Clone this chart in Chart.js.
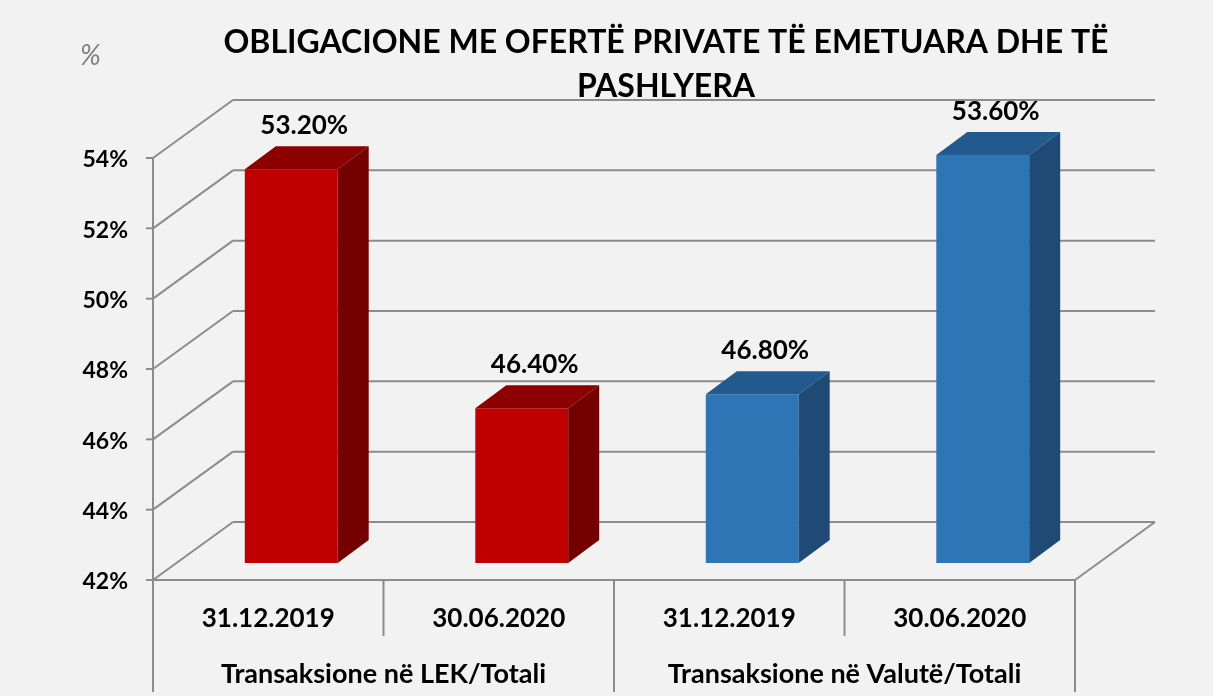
<!DOCTYPE html>
<html>
<head>
<meta charset="utf-8">
<script src="https://cdn.jsdelivr.net/npm/chart.js@4/dist/chart.umd.min.js"></script>
<style>
  html, body { margin: 0; padding: 0; background: #f2f2f2; }
  #wrap { width: 1213px; height: 696px; }
</style>
</head>
<body>
<div id="wrap"><canvas id="bondChart" width="1213" height="696"></canvas></div>
<script>
// --- data ---
const titleLines = ["OBLIGACIONE ME OFERTË PRIVATE TË EMETUARA DHE TË", "PASHLYERA"];
const categories = ["31.12.2019", "30.06.2020", "31.12.2019", "30.06.2020"];
const groups = ["Transaksione në LEK/Totali", "Transaksione në Valutë/Totali"];
const values = [53.2, 46.4, 46.8, 53.6];
const yTicks = [42, 44, 46, 48, 50, 52, 54];

// colours: front / top / side of each bar
const frontColors = ["#c00000", "#c00000", "#2e75b6", "#2e75b6"];
const topColors = ["#8c0000", "#8c0000", "#235a8d", "#235a8d"];
const sideColors = ["#740000", "#740000", "#1f4a75", "#1f4a75"];

const FONT = "Lato, 'Open Sans', sans-serif";
const GRID = "#8c8c8c";
const WALL = { dx: 80, dy: -58 };   // depth of the back wall
const SHIFT = { dx: 23, dy: -17 };  // bars sit a bit behind the front plane
const BAR = { dx: 31, dy: -23 };    // depth of each bar

function line(ctx, x1, y1, x2, y2) {
    ctx.beginPath();
    ctx.moveTo(x1, y1);
    ctx.lineTo(x2, y2);
    ctx.stroke();
}

function poly(ctx, pts, color) {
    ctx.beginPath();
    ctx.moveTo(pts[0][0], pts[0][1]);
    pts.slice(1).forEach(p => ctx.lineTo(p[0], p[1]));
    ctx.closePath();
    ctx.fillStyle = color;
    ctx.fill();
}

// walls, floor, axes and texts
const framePlugin = {
    id: "frame",
    beforeDatasetsDraw(chart) {
        const ctx = chart.ctx;
        const { left, right, bottom } = chart.chartArea;
        const y = chart.scales.y;
        const x = chart.scales.x;

        ctx.save();
        ctx.strokeStyle = GRID;
        ctx.lineWidth = 2;

        // grid: diagonal from the left axis, then along the back wall
        yTicks.forEach(v => {
            const py = y.getPixelForValue(v);
            line(ctx, left, py, left + WALL.dx, py + WALL.dy);
            line(ctx, left + WALL.dx, py + WALL.dy, right + WALL.dx, py + WALL.dy);
            line(ctx, left - 7, py, left, py);
        });

        // floor front edge and right edge
        line(ctx, left, bottom, right, bottom);
        line(ctx, right, bottom, right + WALL.dx, bottom + WALL.dy);

        // left axis
        line(ctx, left, y.getPixelForValue(yTicks[yTicks.length - 1]), left, bottom);

        // category dividers below the floor
        const h = chart.height;
        const step = x.getPixelForTick(1) - x.getPixelForTick(0);
        for (let i = 0; i <= categories.length; i++) {
            const px = i < categories.length ? x.getPixelForTick(i) - step / 2 : right;
            const longLine = i % 2 === 0;
            line(ctx, px, bottom, px, longLine ? h - 4 : bottom + 56);
        }

        // y tick labels
        ctx.fillStyle = "#000";
        ctx.font = "bold 23px " + FONT;
        ctx.textAlign = "right";
        ctx.textBaseline = "middle";
        yTicks.forEach(v => {
            ctx.fillText(v + "%", left - 25, y.getPixelForValue(v) + 2);
        });

        // category labels
        ctx.textAlign = "center";
        ctx.textBaseline = "alphabetic";
        ctx.font = "bold 26px " + FONT;
        categories.forEach((c, i) => {
            ctx.fillText(c, x.getPixelForTick(i), bottom + 47);
        });

        // group labels
        ctx.font = "bold 27px " + FONT;
        groups.forEach((g, i) => {
            const cx = (x.getPixelForTick(i * 2) + x.getPixelForTick(i * 2 + 1)) / 2;
            ctx.fillText(g, cx, bottom + 103);
        });

        // title
        ctx.font = "bold 32px " + FONT;
        ctx.fillText(titleLines[0], 666, 53);
        ctx.fillText(titleLines[1], 666, 97);

        // unit
        ctx.fillStyle = "#808080";
        ctx.font = "italic 28px " + FONT;
        ctx.textAlign = "left";
        ctx.fillText("%", 80, 65);

        ctx.restore();

        // shift bars into the depth of the chart
        ctx.save();
        ctx.translate(SHIFT.dx, SHIFT.dy);
    },
    afterDatasetsDraw(chart) {
        const ctx = chart.ctx;
        const meta = chart.getDatasetMeta(0);

        meta.data.forEach((bar, i) => {
            const L = bar.x - bar.width / 2;
            const R = bar.x + bar.width / 2;
            const T = bar.y;
            const B = bar.base;
            poly(ctx, [[L, T], [L + BAR.dx, T + BAR.dy], [R + BAR.dx, T + BAR.dy], [R, T]], topColors[i]);
            poly(ctx, [[R, T], [R + BAR.dx, T + BAR.dy], [R + BAR.dx, B + BAR.dy], [R, B]], sideColors[i]);

            // value label
            ctx.fillStyle = "#000";
            ctx.font = "bold 26px " + FONT;
            ctx.textAlign = "center";
            ctx.textBaseline = "alphabetic";
            ctx.fillText(values[i].toFixed(2) + "%", bar.x + 13, T + BAR.dy - 12);
        });

        ctx.restore();
    }
};

function renderChart() {
    const ctx = document.getElementById("bondChart").getContext("2d");

    new Chart(ctx, {
        type: "bar",
        data: {
            labels: categories,
            datasets: [{
                data: values,
                base: yTicks[0],
                backgroundColor: frontColors,
                borderWidth: 0,
                categoryPercentage: 1,
                barPercentage: 0.403,
                clip: false
            }]
        },
        options: {
            responsive: false,
            animation: false,
            layout: { padding: { left: 153, right: 138, top: 158, bottom: 116 } },
            plugins: {
                legend: { display: false },
                tooltip: { enabled: false }
            },
            scales: {
                x: { display: false },
                y: { display: false, min: 42, max: 54, ticks: { stepSize: 2 } }
            }
        },
        plugins: [framePlugin]
    });
}

renderChart();
</script>
</body>
</html>
